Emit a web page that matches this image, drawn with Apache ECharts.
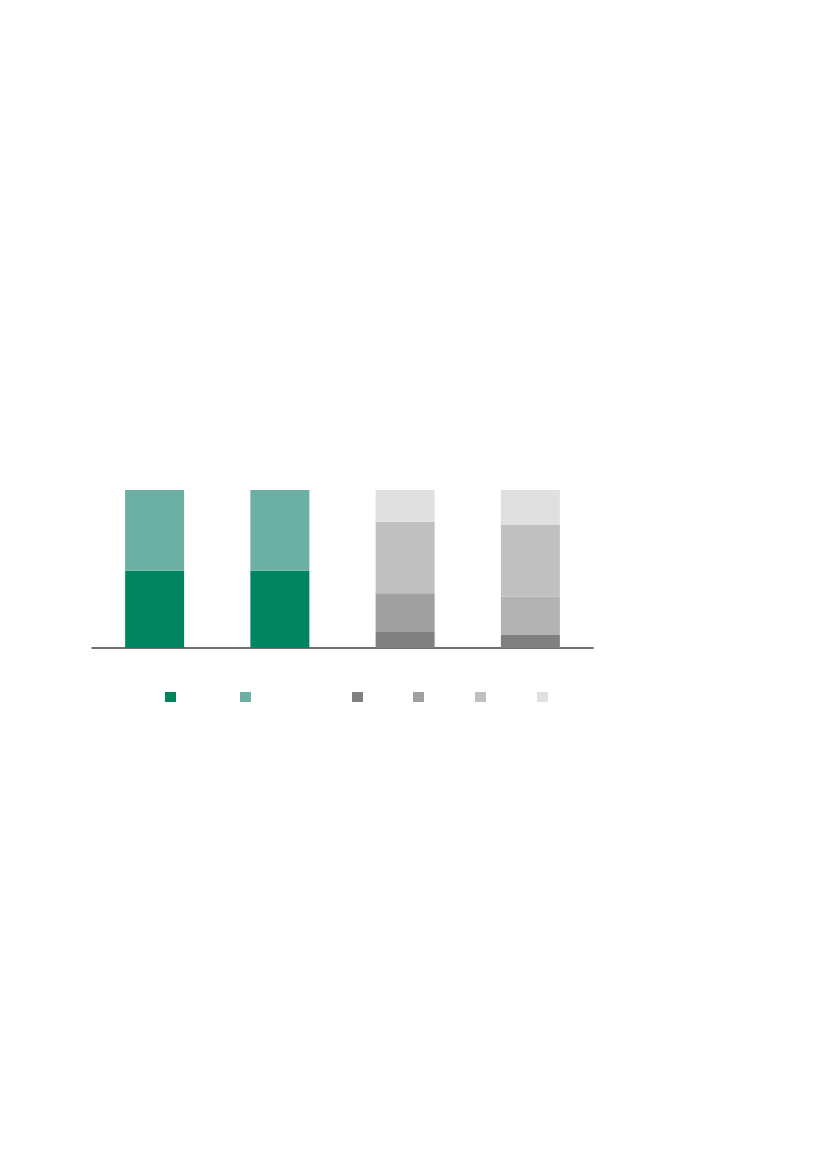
<!DOCTYPE html>
<html lang="en">

<head>
    <meta charset="UTF-8" />
    <title>Stacked bars</title>
    <script src="https://cdn.jsdelivr.net/npm/echarts@6/dist/echarts.min.js"></script>
    <style>
        html, body { margin: 0; padding: 0; background: #fff; }
    </style>
</head>

<body>
    <div id="chart" style="width:827px;height:1169px;"></div>
    <script type="text/javascript">
        // data (share of each bar, %)
        var categories = ['A', 'B', 'C', 'D'];
        var seriesNames = ['Series 1', 'Series 2', 'Series 3', 'Series 4', 'Series 5', 'Series 6'];
        var green1 = [48.9, 48.9, null, null];
        var green2 = [51.1, 51.1, null, null];
        var grey1 = [null, null, 10.6, 8.3];
        var grey2 = [null, null, 24.1, 24.3];
        var grey3 = [null, null, 45.2, 45.2];
        var grey4 = [null, null, 20.1, 22.2];

        var colors = ['#00855F', '#6CB0A3', '#808080', '#A0A0A0', '#C0C0C0', '#E0E0E0'];
        var legendLeft = [165, 240, 352, 413, 475, 537];

        var chart = echarts.init(document.getElementById('chart'));

        var allData = [green1, green2, grey1, grey2, grey3, grey4];
        var series = [];
        for (var i = 0; i < allData.length; i++) {
            var d = allData[i].map(function (v) { return v === null ? '-' : v; });
            series.push({
                name: seriesNames[i],
                type: 'bar',
                stack: 'total',
                barWidth: 59,
                itemStyle: { color: colors[i] },
                data: d
            });
        }
        // the second grey block in the last bar is a lighter shade
        series[3].data[3] = { value: grey2[3], itemStyle: { color: '#B3B3B3' } };

        var legends = [];
        for (var j = 0; j < seriesNames.length; j++) {
            legends.push({
                data: [seriesNames[j]],
                left: legendLeft[j],
                top: 692,
                itemWidth: 11,
                itemHeight: 10,
                icon: 'rect',
                padding: 0,
                selectedMode: false,
                formatter: function () { return ''; }
            });
        }

        var option = {
            animation: false,
            color: colors,
            legend: legends,
            grid: {
                left: 92,
                top: 490,
                width: 501,
                height: 158
            },
            xAxis: {
                type: 'category',
                data: categories,
                axisTick: { show: false },
                axisLabel: { show: false },
                axisLine: { lineStyle: { color: '#404040', width: 1.5 } }
            },
            yAxis: {
                type: 'value',
                min: 0,
                max: 100,
                show: false,
                splitLine: { show: false }
            },
            series: series
        };

        chart.setOption(option);
    </script>
</body>

</html>
